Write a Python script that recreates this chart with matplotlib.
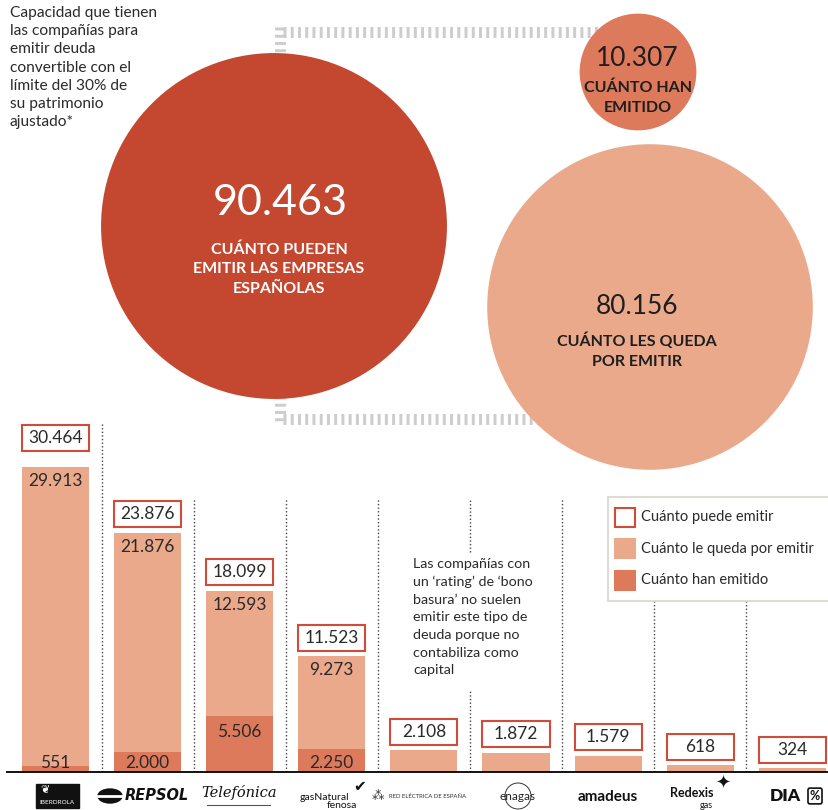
import matplotlib
matplotlib.use("Agg")
import matplotlib.pyplot as plt
from matplotlib.patches import Circle, Rectangle, Ellipse
import numpy as np

plt.rcParams['font.family'] = ['Lato', 'DejaVu Sans']

# --- data ---
companies = ["Iberdrola", "Repsol", "Telefónica", "Gas Natural Fenosa",
             "Red Eléctrica de España", "Enagás", "Amadeus", "Redexis Gas", "DIA"]
can_issue = [30464, 23876, 18099, 11523, 2108, 1872, 1579, 618, 324]
left_to_issue = [29913, 21876, 12593, 9273, 2108, 1872, 1579, 618, 324]
issued = [551, 2000, 5506, 2250, 0, 0, 0, 0, 0]

bubble_values = [90463, 10307, 80156]
bubble_labels = ["CUÁNTO PUEDEN\nEMITIR LAS EMPRESAS\nESPAÑOLAS",
                 "CUÁNTO HAN\nEMITIDO",
                 "CUÁNTO LES QUEDA\nPOR EMITIR"]
legend_labels = ["Cuánto puede emitir", "Cuánto le queda por emitir", "Cuánto han emitido"]

intro = ("Capacidad que tienen\nlas compañías para\nemitir deuda\nconvertible con el\n"
         "límite del 30% de\nsu patrimonio\najustado*")
note = ("Las compañías con\nun ‘rating’ de ‘bono\nbasura’ no suelen\nemitir este tipo de\n"
        "deuda porque no\ncontabiliza como\ncapital")

DARK_RED = '#c4472f'
DARK = '#de7a5c'
LIGHT = '#eba98c'
BOX_EDGE = '#d24b38'
TXT = '#2a2a2a'
GRAY_RULE = '#cdcdcf'


def fmt(v):
    return f"{v:,}".replace(",", ".")


W, H = 829, 810
fig = plt.figure(figsize=(W / 100, H / 100), dpi=100)

# --- bar chart axis: 100 units per pixel, baseline at y=771.5 px ---
base_px, top_px, upp = 771.5, 420, 100
pitch, c0 = 92.1, 55.5
bx = fig.add_axes([0, (H - base_px) / H, 1, (base_px - top_px) / H])
bx.set_ylim(0, (base_px - top_px) * upp)
bx.set_xlim(-c0 / pitch, (W - c0) / pitch)
bx.axis('off')
bx.set_zorder(1)

x = np.arange(len(companies))
bw = 67 / pitch
bx.bar(x, issued, bw, color=DARK, zorder=2)
bx.bar(x, left_to_issue, bw, bottom=issued, color=LIGHT, zorder=2)

for i, total in enumerate(can_issue):
    gap = (16 if i == 0 else 5.5) * upp
    bx.add_patch(Rectangle((i - bw / 2, total + gap), bw, 26 * upp,
                           facecolor='white', edgecolor=BOX_EDGE, lw=1.5, zorder=3))
    bx.text(i, total + gap + 13 * upp, fmt(total), ha='center', va='center',
            fontsize=12.5, color=TXT, zorder=4)
    if issued[i] > 0:
        bx.text(i, total - 14 * upp, fmt(left_to_issue[i]), ha='center', va='center',
                fontsize=12.5, color=TXT, zorder=4)
        bx.text(i, max(issued[i] - 16 * upp, 8 * upp), fmt(issued[i]), ha='center',
                va='center', fontsize=12.5, color=TXT, zorder=4)

# dotted separators between companies
for i in range(len(companies) - 1):
    top = (base_px - 422) * upp if i == 0 else (base_px - 499) * upp
    if i == 4:
        bx.vlines(i + 0.5, 0, (base_px - 691) * upp, color='#444', lw=1, ls=(0, (1, 1.6)))
        bx.vlines(i + 0.5, (base_px - 552) * upp, top, color='#444', lw=1, ls=(0, (1, 1.6)))
    else:
        bx.vlines(i + 0.5, 0, top, color='#444', lw=1, ls=(0, (1, 1.6)))

# --- overlay axis in pixel units ---
ax = fig.add_axes([0, 0, 1, 1])
ax.set_xlim(0, W)
ax.set_ylim(H, 0)
ax.axis('off')
ax.set_zorder(2)

ax.plot([6, W], [base_px, base_px], color='black', lw=1.3, solid_capstyle='butt')

# bubbles (area proportional to value)
k = 0.575
centers = [(274, 226), (638, 72), (650, 307)]
colors = [DARK_RED, DARK, LIGHT]
for (cx, cy), v, c in zip(centers, bubble_values, colors):
    ax.add_patch(Circle((cx, cy), k * np.sqrt(v), color=c, zorder=2, lw=0))

# ruler-like brackets
dash = (0, (0.27, 0.39))
ax.plot([283, 620], [32, 32], color=GRAY_RULE, lw=7.9, ls=dash, zorder=1)
ax.plot([280.5, 280.5], [27, 55], color=GRAY_RULE, lw=7.9, ls=dash, zorder=1)
ax.plot([283, 560], [419, 419], color=GRAY_RULE, lw=7.9, ls=dash, zorder=1)
ax.plot([280.5, 280.5], [396, 424], color=GRAY_RULE, lw=7.9, ls=dash, zorder=1)

# bubble texts
num_pos = [(280, 203), (637, 58), (637, 306)]
lab_pos = [(279, 269), (638, 97.5), (637, 350.5)]
num_size = [31, 19, 19]
txt_colors = ['white', '#1e1e1e', '#1e1e1e']
for v, lab, (nx, ny), (lx, ly), fs, tc in zip(bubble_values, bubble_labels, num_pos,
                                              lab_pos, num_size, txt_colors):
    ax.text(nx, ny, fmt(v), ha='center', va='center', fontsize=fs, color=tc, zorder=3)
    ax.text(lx, ly, lab, ha='center', va='center', fontsize=11.5, color=tc,
            fontweight='bold', linespacing=1.5, zorder=3)

ax.text(10, 6, intro, ha='left', va='top', fontsize=11.2, color=TXT, linespacing=1.38)
ax.text(413, 558, note, ha='left', va='top', fontsize=10.3, color=TXT, linespacing=1.56)

# legend
ax.add_patch(Rectangle((608, 497), 240, 104, facecolor='white', edgecolor='#dcdcd4',
                       lw=1.5, zorder=5))
sw_face = ['white', LIGHT, DARK]
sw_edge = [BOX_EDGE, LIGHT, DARK]
for j, (lab, fc, ec) in enumerate(zip(legend_labels, sw_face, sw_edge)):
    yc = 517 + j * 31.5
    ax.add_patch(Rectangle((615.5, yc - 9.5), 20, 19, facecolor=fc, edgecolor=ec,
                           lw=1.5, zorder=6))
    ax.text(641, yc, lab, ha='left', va='center', fontsize=10.5, color=TXT, zorder=6)

# company "logos" as text
ly = 796
ax.add_patch(Rectangle((36, 784), 43, 24, facecolor='#111', edgecolor='#111', zorder=3))
ax.text(57.5, 802, "IBERDROLA", ha='center', va='center', fontsize=4.6, color='white', zorder=4)
ax.text(45, 790, "❦", ha='center', va='center', fontsize=8, color='white', zorder=4,
        family=['DejaVu Sans'])
ax.add_patch(Ellipse((110, ly), 24, 14, color='#111', zorder=3))
ax.plot([98, 122], [ly, ly], color='white', lw=2, zorder=4)
ax.text(157, ly, "REPSOL", ha='center', va='center', fontsize=10.5, fontweight='heavy',
        style='italic', color='#111', family=['DejaVu Sans'])
ax.text(239, ly - 3, "Telefónica", ha='center', va='center', fontsize=10.5, style='italic',
        family=['DejaVu Serif'], color='#111')
ax.plot([207, 270], [805, 805], color='#555', lw=0.8)
ax.text(324, ly + 1, "gasNatural", ha='center', va='center', fontsize=7.5, color='#111')
ax.text(342, 805, "fenosa", ha='center', va='center', fontsize=7.5, color='#111')
ax.text(360, 787, "✔", ha='center', va='center', fontsize=11, color='#111',
        family=['DejaVu Sans'])
ax.text(378, ly, "⁂", ha='center', va='center', fontsize=9, color='#333',
        family=['DejaVu Sans'])
ax.text(428, ly, "RED ELÉCTRICA DE ESPAÑA", ha='center', va='center', fontsize=4.3,
        color='#333')
ax.text(518, ly, "enagas", ha='center', va='center', fontsize=8.5, color='#222')
ax.add_patch(Circle((518, ly), 13, fill=False, edgecolor='#333', lw=0.7))
ax.text(608, ly + 1, "amadeus", ha='center', va='center', fontsize=11, fontweight='bold',
        color='#111')
ax.text(692, 793, "Redexis", ha='center', va='center', fontsize=9, fontweight='bold',
        color='#111')
ax.text(706, 805.5, "gas", ha='center', va='center', fontsize=6.5, color='#111')
ax.text(723, 784, "✦", ha='center', va='center', fontsize=13, color='#111',
        family=['DejaVu Sans'])
ax.text(785, ly, "DIA", ha='center', va='center', fontsize=12.5, fontweight='heavy',
        color='#111')
ax.text(815, ly, "%", ha='center', va='center', fontsize=9, fontweight='bold', color='#111',
        bbox=dict(boxstyle='round,pad=0.15', fc='white', ec='#111', lw=1.2))

fig.savefig("out.png", dpi=100)
